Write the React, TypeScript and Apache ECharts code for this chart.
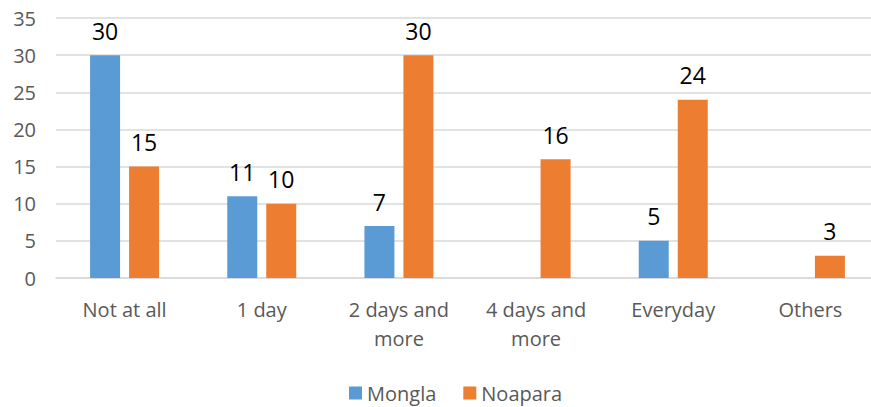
import React, { useEffect, useRef } from "react";
import * as echarts from "echarts";

const categories = ["Not at all", "1 day", "2 days and\nmore", "4 days and\nmore", "Everyday", "Others"];
const mongla = [30, 11, 7, null, 5, null];
const noapara = [15, 10, 30, 16, 24, 3];
const yTicks = { min: 0, max: 35, interval: 5 };

export default function App() {
  const ref = useRef<HTMLDivElement>(null);
  useEffect(() => {
    const chart = echarts.init(ref.current!, null, { renderer: "svg" });
    const font = "'Open Sans', sans-serif";
    const label = {
      show: true,
      position: "top",
      distance: 13,
      color: "#000",
      fontSize: 23,
      fontFamily: font,
    };
    chart.setOption({
      animation: false,
      grid: { left: 56, width: 823, top: 18, bottom: 129, outerBoundsMode: "none", containLabel: false },
      legend: {
        top: 378,
        left: 344,
        itemWidth: 13,
        itemHeight: 13,
        itemGap: 27,
        icon: "rect",
        textStyle: { color: "#595959", fontSize: 20, fontFamily: font },
        data: ["Mongla", "Noapara"],
      },
      xAxis: {
        type: "category",
        data: categories,
        axisLine: { lineStyle: { color: "#d9d9d9", width: 1.5 } },
        axisTick: { show: false },
        axisLabel: { color: "#595959", fontSize: 20, fontFamily: font, margin: 17, lineHeight: 29, interval: 0 },
      },
      yAxis: {
        type: "value",
        ...yTicks,
        axisLine: { show: false },
        axisTick: { show: false },
        splitLine: { lineStyle: { color: "#d9d9d9", width: 1.5 } },
        axisLabel: { color: "#595959", fontSize: 20, fontFamily: font, margin: 20 },
      },
      series: [
        { name: "Mongla", type: "bar", data: mongla, itemStyle: { color: "#5b9bd5" }, barWidth: 30, barGap: "30%", label },
        { name: "Noapara", type: "bar", data: noapara, itemStyle: { color: "#ed7d31" }, barWidth: 30, label },
      ],
    });
    return () => chart.dispose();
  }, []);
  return <div ref={ref} style={{ width: 871, height: 407, position: "absolute", left: 0, top: 0 }} />;
}
